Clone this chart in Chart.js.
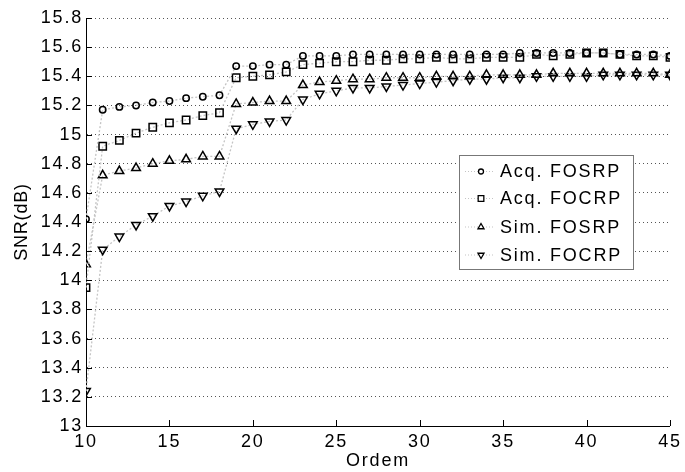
<!DOCTYPE html>
<html>
<head>
<meta charset="utf-8">
<script src="https://cdn.jsdelivr.net/npm/chart.js@4"></script>
<style>
html,body{margin:0;padding:0;background:#fff;}
#wrap{width:685px;height:472px;}
</style>
</head>
<body>
<div id="wrap"><canvas id="snr" width="685" height="472"></canvas></div>
<script>
// ordem do filtro
var ordem = [10,11,12,13,14,15,16,17,18,19,20,21,22,23,24,25,26,27,28,29,30,31,32,33,34,35,36,37,38,39,40,41,42,43,44,45];

var acqFOSRP = [14.42,15.17,15.19,15.20,15.22,15.23,15.25,15.26,15.27,15.47,15.47,15.48,15.48,15.54,15.54,15.54,15.55,15.55,15.55,15.55,15.55,15.55,15.55,15.55,15.55,15.55,15.56,15.56,15.56,15.56,15.56,15.56,15.55,15.55,15.55,15.54];
var acqFOCRP = [13.95,14.92,14.96,15.01,15.05,15.08,15.10,15.13,15.15,15.39,15.40,15.41,15.43,15.48,15.49,15.50,15.50,15.51,15.51,15.52,15.52,15.53,15.52,15.52,15.53,15.53,15.53,15.55,15.54,15.55,15.56,15.56,15.55,15.54,15.54,15.53];
var simFOSRP = [14.11,14.72,14.75,14.77,14.80,14.82,14.83,14.85,14.85,15.21,15.22,15.23,15.23,15.34,15.36,15.37,15.38,15.38,15.39,15.39,15.39,15.40,15.40,15.40,15.41,15.41,15.41,15.41,15.42,15.42,15.42,15.42,15.42,15.42,15.42,15.41];
var simFOCRP = [13.24,14.21,14.30,14.38,14.44,14.51,14.54,14.58,14.61,15.04,15.07,15.09,15.10,15.24,15.28,15.30,15.32,15.32,15.33,15.34,15.35,15.36,15.37,15.38,15.38,15.39,15.39,15.40,15.40,15.40,15.40,15.41,15.41,15.41,15.41,15.41];

var legendas = ['Acq. FOSRP','Acq. FOCRP','Sim. FOSRP','Sim. FOCRP'];
var yTicks = [13,13.2,13.4,13.6,13.8,14,14.2,14.4,14.6,14.8,15,15.2,15.4,15.6,15.8];
var xTicks = [10,15,20,25,30,35,40,45];

var FONT = 'Liberation Sans, Arial, sans-serif';
var ESPACO = '1.8px'; // o texto original parece esticado na horizontal

function pts(arr){
  return arr.map(function(v,i){ return {x:ordem[i], y:v}; });
}

function serie(label, arr, style, radius, rot){
  return {
    label: label,
    data: pts(arr),
    showLine: true,
    borderColor: '#c4c4c4',
    borderWidth: 1.3,
    borderDash: [2,2],
    pointStyle: style,
    pointRadius: radius,
    pointRotation: rot,
    pointBorderColor: '#000',
    pointBorderWidth: 1.5,
    pointBackgroundColor: 'rgba(0,0,0,0)',
    pointHoverRadius: radius
  };
}

// espacamento das letras, ticks para dentro, titulo do eixo y e legenda
var extras = {
  id: 'extras',
  beforeDraw: function(chart){
    chart.ctx.letterSpacing = ESPACO;
  },
  afterDraw: function(chart){
    var c = chart.ctx, a = chart.chartArea;
    var xs = chart.scales.x, ys = chart.scales.y;
    c.save();
    c.strokeStyle = '#000';
    c.lineWidth = 1;
    xTicks.forEach(function(t){
      var px = Math.round(xs.getPixelForValue(t)) + 0.5;
      c.beginPath(); c.moveTo(px, a.bottom); c.lineTo(px, a.bottom - 6); c.stroke();
    });
    yTicks.forEach(function(t){
      var py = Math.round(ys.getPixelForValue(t)) + 0.5;
      c.beginPath(); c.moveTo(a.left, py); c.lineTo(a.left + 6, py); c.stroke();
    });
    // titulo do eixo y
    c.save();
    c.letterSpacing = '0.8px';
    c.translate(22, (a.top + a.bottom) / 2);
    c.rotate(-Math.PI / 2);
    c.fillStyle = '#000';
    c.font = '18px ' + FONT;
    c.textAlign = 'center';
    c.textBaseline = 'middle';
    c.fillText('SNR(dB)', 0, 0);
    c.restore();
    // legenda
    var bx = 459.5, by = 155.5, bw = 174, bh = 114;
    c.fillStyle = '#fff';
    c.fillRect(bx, by, bw, bh);
    c.strokeStyle = '#777';
    c.strokeRect(bx, by, bw, bh);
    var rows = [171.5, 198.5, 227, 255];
    chart.data.datasets.forEach(function(ds, i){
      var y = rows[i];
      c.strokeStyle = '#c4c4c4';
      c.lineWidth = 1.2;
      c.setLineDash([1,2]);
      c.beginPath(); c.moveTo(465, y); c.lineTo(495, y); c.stroke();
      c.setLineDash([]);
      c.strokeStyle = '#000';
      c.fillStyle = '#fff';
      c.lineWidth = 1.3;
      var r = ds.pointStyle === 'rect' ? 4 : (ds.pointStyle === 'circle' ? 2.5 : 3.5);
      Chart.helpers.drawPoint(c, {pointStyle: ds.pointStyle, radius: r, rotation: ds.pointRotation, borderWidth: 1.3}, 481, y);
      c.fillStyle = '#000';
      c.font = '18px ' + FONT;
      c.letterSpacing = '1.8px';
      c.textBaseline = 'middle';
      c.textAlign = 'left';
      c.fillText(ds.label, 500, y + 1);
    });
    c.restore();
  }
};

var ctx = document.getElementById('snr').getContext('2d');
var grafico = new Chart(ctx, {
  type: 'scatter',
  data: {
    datasets: [
      serie(legendas[0], acqFOSRP, 'circle', 3.2, 0),
      serie(legendas[1], acqFOCRP, 'rect', 5.2, 0),
      serie(legendas[2], simFOSRP, 'triangle', 5, 0),
      serie(legendas[3], simFOCRP, 'triangle', 5, 180)
    ]
  },
  options: {
    responsive: false,
    animation: false,
    layout: {padding: {left: 0, right: 13, top: 18, bottom: 0}},
    plugins: {
      legend: {display: false},
      tooltip: {enabled: false}
    },
    scales: {
      x: {
        type: 'linear',
        min: 10, max: 45,
        afterBuildTicks: function(s){ s.ticks = xTicks.map(function(v){ return {value:v}; }); },
        afterFit: function(s){ s.height = 46; },
        grid: {display: false, drawTicks: false},
        border: {display: true, color: '#000', width: 1},
        ticks: {color: '#000', font: {family: FONT, size: 18}, padding: 5, maxRotation: 0, autoSkip: false},
        title: {display: true, text: 'Ordem', color: '#000', font: {family: FONT, size: 18}, padding: {top: 0, bottom: 0}}
      },
      y: {
        type: 'linear',
        min: 13, max: 15.8,
        afterBuildTicks: function(s){ s.ticks = yTicks.map(function(v){ return {value:v}; }); },
        afterFit: function(s){ s.width = 86; },
        grid: {display: true, drawTicks: false, color: '#555', lineWidth: 1},
        border: {display: true, color: '#000', width: 1, dash: [1,3]},
        ticks: {
          color: '#000', font: {family: FONT, size: 18}, padding: 3, autoSkip: false,
          callback: function(v){ return String(Math.round(v*10)/10); }
        },
        title: {display: false}
      }
    }
  },
  plugins: [extras]
});
</script>
</body>
</html>
